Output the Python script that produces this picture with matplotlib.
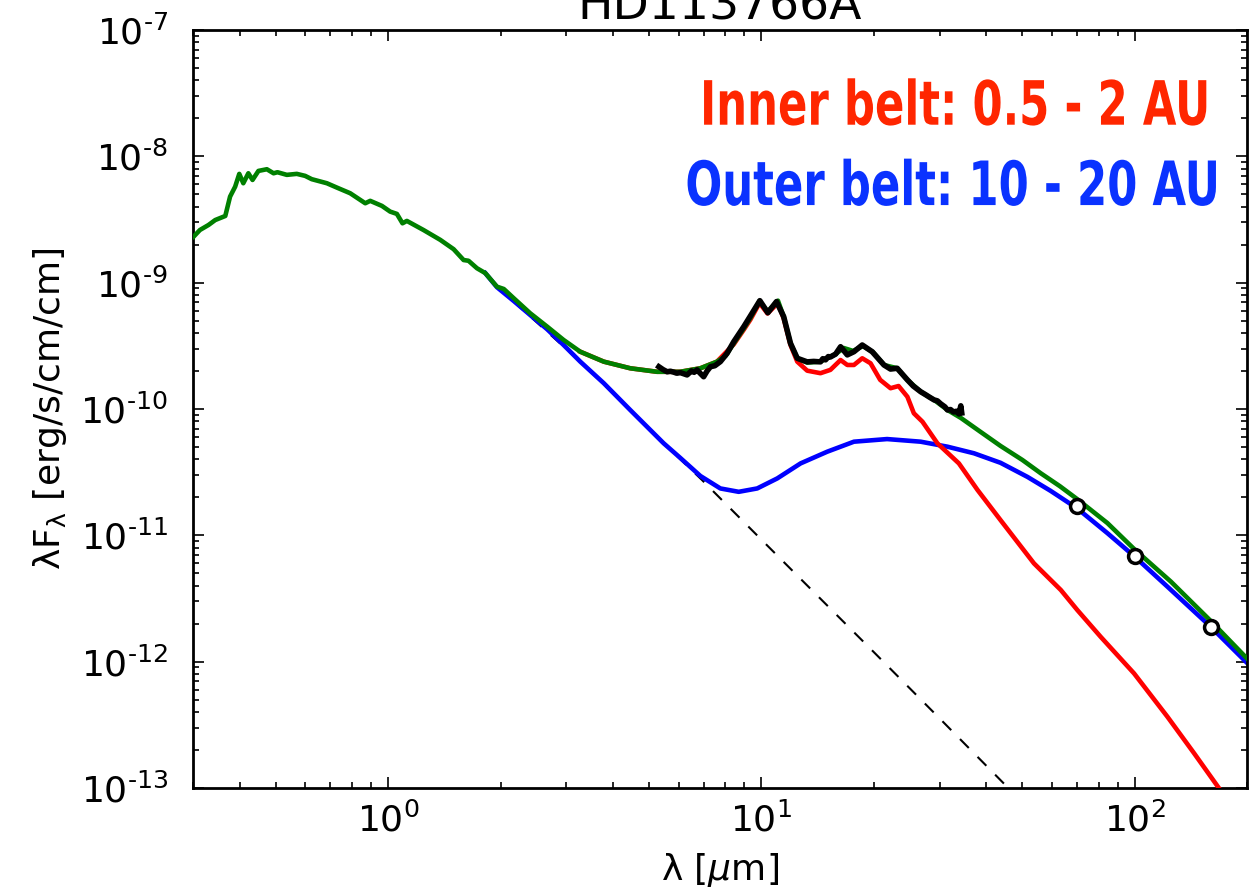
import matplotlib
matplotlib.use('Agg')
import matplotlib.pyplot as plt
import numpy as np
from matplotlib.patheffects import AbstractPathEffect
from matplotlib.ticker import FuncFormatter
from matplotlib.transforms import Affine2D

# total model: star + inner belt + outer belt
total_wl = [0.301, 0.313, 0.330, 0.344, 0.366, 0.377, 0.389, 0.399, 0.409, 0.422,
            0.433, 0.449, 0.473, 0.493, 0.505, 0.535, 0.569, 0.599, 0.624, 0.685,
            0.729, 0.791, 0.868, 0.895, 0.962, 1.012, 1.055, 1.092, 1.122, 1.243,
            1.379, 1.497, 1.592, 1.641, 1.729, 1.820, 1.956, 2.04, 2.17, 2.40,
            2.665, 2.95, 3.27, 3.78, 4.45, 5.25, 6.06, 6.86, 7.60, 8.01,
            8.43, 8.97, 9.34, 9.88, 10.38, 11.07, 11.47, 11.96, 12.47, 13.26,
            14.39, 15.8, 16.6, 17.6, 18.7, 19.9, 21.3, 23.1, 24.6, 26.7,
            29.0, 31.5, 34.2, 38.6, 43.7, 50.0, 56.0, 63.0, 70.2, 84.5,
            99.6, 125.0, 159.8, 200.5]
total_flux = [2.31e-9, 2.61e-9, 2.86e-9, 3.13e-9, 3.37e-9, 4.80e-9, 5.75e-9, 7.26e-9, 6.12e-9, 7.34e-9,
              6.50e-9, 7.66e-9, 7.90e-9, 7.34e-9, 7.48e-9, 7.13e-9, 7.26e-9, 7.00e-9, 6.59e-9, 6.12e-9,
              5.65e-9, 5.10e-9, 4.25e-9, 4.44e-9, 4.05e-9, 3.65e-9, 3.50e-9, 2.95e-9, 3.08e-9, 2.61e-9,
              2.18e-9, 1.84e-9, 1.51e-9, 1.49e-9, 1.30e-9, 1.19e-9, 9.29e-10, 8.91e-10, 7.52e-10, 5.73e-10,
              4.49e-10, 3.52e-10, 2.84e-10, 2.37e-10, 2.10e-10, 1.97e-10, 1.97e-10, 2.10e-10, 2.37e-10, 2.63e-10,
              3.31e-10, 4.35e-10, 5.26e-10, 7.16e-10, 5.89e-10, 7.20e-10, 5.38e-10, 3.31e-10, 2.52e-10, 2.33e-10,
              2.37e-10, 2.72e-10, 3.04e-10, 2.88e-10, 3.15e-10, 2.82e-10, 2.23e-10, 2.10e-10, 1.70e-10, 1.37e-10,
              1.18e-10, 9.82e-11, 8.5e-11, 6.6e-11, 5.1e-11, 3.95e-11, 3.1e-11, 2.45e-11, 1.93e-11, 1.25e-11,
              7.8e-12, 4.3e-12, 2.1e-12, 1.05e-12]

# star + inner belt (0.5 - 2 AU)
inner_wl = [3.27, 3.78, 4.45, 5.25, 6.06, 6.86, 7.60, 8.43, 8.97, 9.34,
            9.88, 10.38, 11.07, 11.47, 11.96, 12.47, 13.26, 14.39, 15.3, 16.29,
            16.98, 17.69, 18.62, 19.6, 20.8, 22.17, 23.3, 24.6, 25.6, 27.0,
            29.6, 33.8, 37.9, 43.7, 53.7, 63.4, 70.2, 81.1, 99.6, 122.4,
            144.3, 168.3]
inner_flux = [2.84e-10, 2.37e-10, 2.10e-10, 1.97e-10, 1.97e-10, 2.10e-10, 2.37e-10, 3.25e-10, 4.25e-10, 5.1e-10,
              6.9e-10, 5.7e-10, 6.9e-10, 5.2e-10, 3.21e-10, 2.37e-10, 2.01e-10, 1.92e-10, 2.04e-10, 2.44e-10,
              2.23e-10, 2.23e-10, 2.52e-10, 2.30e-10, 1.70e-10, 1.46e-10, 1.52e-10, 1.25e-10, 9.25e-11, 7.93e-11,
              5.35e-11, 3.71e-11, 2.29e-11, 1.32e-11, 6.00e-12, 3.69e-12, 2.56e-12, 1.57e-12, 8.07e-13, 3.66e-13,
              1.88e-13, 9.93e-14]

# star + outer belt (10 - 20 AU)
outer_wl = [1.82, 1.956, 2.17, 2.40, 2.665, 2.95, 3.27, 3.78, 4.45, 5.47,
            6.06, 6.86, 7.76, 8.69, 9.74, 11.02, 12.73, 15.0, 17.69, 21.7,
            26.7, 31.5, 37.1, 43.7, 51.6, 59.5, 70.2, 84.5, 99.6, 122.4,
            159.8, 200.5]
outer_flux = [1.19e-9, 9.2e-10, 7.15e-10, 5.55e-10, 4.28e-10, 3.21e-10, 2.37e-10, 1.60e-10, 9.82e-11, 5.35e-11,
              4.1e-11, 2.95e-11, 2.35e-11, 2.21e-11, 2.35e-11, 2.82e-11, 3.71e-11, 4.59e-11, 5.51e-11, 5.78e-11,
              5.51e-11, 5.03e-11, 4.46e-11, 3.75e-11, 2.9e-11, 2.25e-11, 1.63e-11, 1.04e-11, 6.85e-12, 3.92e-12,
              1.89e-12, 9.70e-13]

# stellar photosphere
star_wl = [2.17, 3.27, 4.45, 5.47, 6.93, 10.0, 20.0, 30.0, 45.1, 50.0]
star_flux = [7.08e-10, 2.37e-10, 9.82e-11, 5.35e-11, 2.74e-11, 9.23e-12, 1.19e-12, 3.56e-13, 1.05e-13, 7.8e-14]

# IRS spectrum
irs_wl = [5.31, 5.45, 5.59, 5.70, 5.81, 5.93, 6.06, 6.19, 6.32, 6.49,
          6.60, 6.72, 6.85, 7.00, 7.15, 7.30, 7.50, 7.76, 8.09, 8.43,
          8.97, 9.44, 9.90, 10.40, 10.97, 11.47, 11.96, 12.47, 13.26, 13.8,
          14.39, 14.6, 14.85, 15.1, 15.3, 15.8, 16.29, 16.98, 17.69, 18.62,
          19.80, 21.29, 22.17, 23.1, 24.6, 25.5, 26.7, 27.5, 28.2, 29.0,
          29.6, 30.2, 31.0, 31.5, 32.1, 32.7, 33.3, 33.8, 34.2, 34.4]
irs_flux = [2.16e-10, 2.05e-10, 1.97e-10, 1.99e-10, 1.96e-10, 1.92e-10, 1.94e-10, 1.90e-10, 1.86e-10, 2.00e-10,
            1.95e-10, 2.04e-10, 1.92e-10, 1.80e-10, 2.00e-10, 2.16e-10, 2.20e-10, 2.37e-10, 2.76e-10, 3.41e-10,
            4.49e-10, 5.73e-10, 7.20e-10, 5.78e-10, 7.08e-10, 5.38e-10, 3.31e-10, 2.52e-10, 2.36e-10, 2.38e-10,
            2.36e-10, 2.50e-10, 2.45e-10, 2.60e-10, 2.58e-10, 2.72e-10, 3.11e-10, 2.68e-10, 2.84e-10, 3.21e-10,
            2.84e-10, 2.23e-10, 2.07e-10, 2.10e-10, 1.70e-10, 1.52e-10, 1.37e-10, 1.30e-10, 1.24e-10, 1.18e-10,
            1.16e-10, 1.10e-10, 1.04e-10, 9.82e-11, 9.9e-11, 9.47e-11, 9.6e-11, 9.13e-11, 1.06e-10, 9.3e-11]

# photometry
phot_wl = [70.0, 100.0, 160.0]
phot_flux = [1.71e-11, 6.90e-12, 1.87e-12]


class Squeeze(AbstractPathEffect):
    # narrow the glyphs horizontally about a fixed pixel x
    def __init__(self, sx, x0):
        super().__init__()
        self.sx = sx
        self.x0 = x0

    def draw_path(self, renderer, gc, tpath, affine, rgbFace=None):
        a = affine + Affine2D().translate(-self.x0, 0).scale(self.sx, 1).translate(self.x0, 0)
        renderer.draw_path(gc, tpath, a, rgbFace)


def log_label(v, pos):
    e = int(round(np.log10(v)))
    return r'$\mathregular{10^{%s}}$' % str(e).replace('-', '\u2010')


fig = plt.figure(figsize=(12.56, 8.89), dpi=100)
ax = fig.add_axes([0.1537, 0.1136, 0.8392, 0.8527])

ax.plot(star_wl, star_flux, color='k', lw=1.5, dashes=(6, 6), zorder=1)
ax.plot(outer_wl, outer_flux, color='b', lw=3.3, zorder=2)
ax.plot(inner_wl, inner_flux, color='r', lw=3.3, zorder=3)
ax.plot(total_wl, total_flux, color='g', lw=3.3, zorder=4)
ax.plot(irs_wl, irs_flux, color='k', lw=4, zorder=5)
ax.plot(phot_wl, phot_flux, 'o', mfc='w', mec='k', ms=10, mew=2.5, zorder=6)

ax.set_xscale('log')
ax.set_yscale('log')
ax.set_xlim(0.3, 200)
ax.set_ylim(1e-13, 1e-7)
ax.xaxis.set_major_formatter(FuncFormatter(log_label))
ax.yaxis.set_major_formatter(FuncFormatter(log_label))

ax.tick_params(which='both', direction='in', top=True, right=True, width=1.2, labelsize=26)
ax.tick_params(which='major', length=8)
ax.tick_params(which='minor', length=4)
ax.tick_params(axis='y', pad=18)
ax.tick_params(axis='x', pad=10)
for sp in ax.spines.values():
    sp.set_linewidth(2)

ax.set_xlabel(r'λ [$\mu$m]', fontsize=26, labelpad=9)
ax.set_ylabel(r'λF$_\mathregular{λ}$ [erg/s/cm/cm]', fontsize=26, labelpad=8)
ax.set_title('HD113766A', fontsize=34, pad=7)

fig.canvas.draw()
for text, x, y, col in [('Inner belt: 0.5 - 2 AU', 0.965, 0.875, '#ff2600'),
                        ('Outer belt: 10 - 20 AU', 0.974, 0.769, '#0a32ff')]:
    x0 = ax.transAxes.transform((x, y))[0]
    ax.text(x, y, text, transform=ax.transAxes, ha='right', va='baseline', color=col,
            fontsize=44, fontweight='bold', path_effects=[Squeeze(0.71, x0)])

fig.savefig('out.png', dpi=100)
